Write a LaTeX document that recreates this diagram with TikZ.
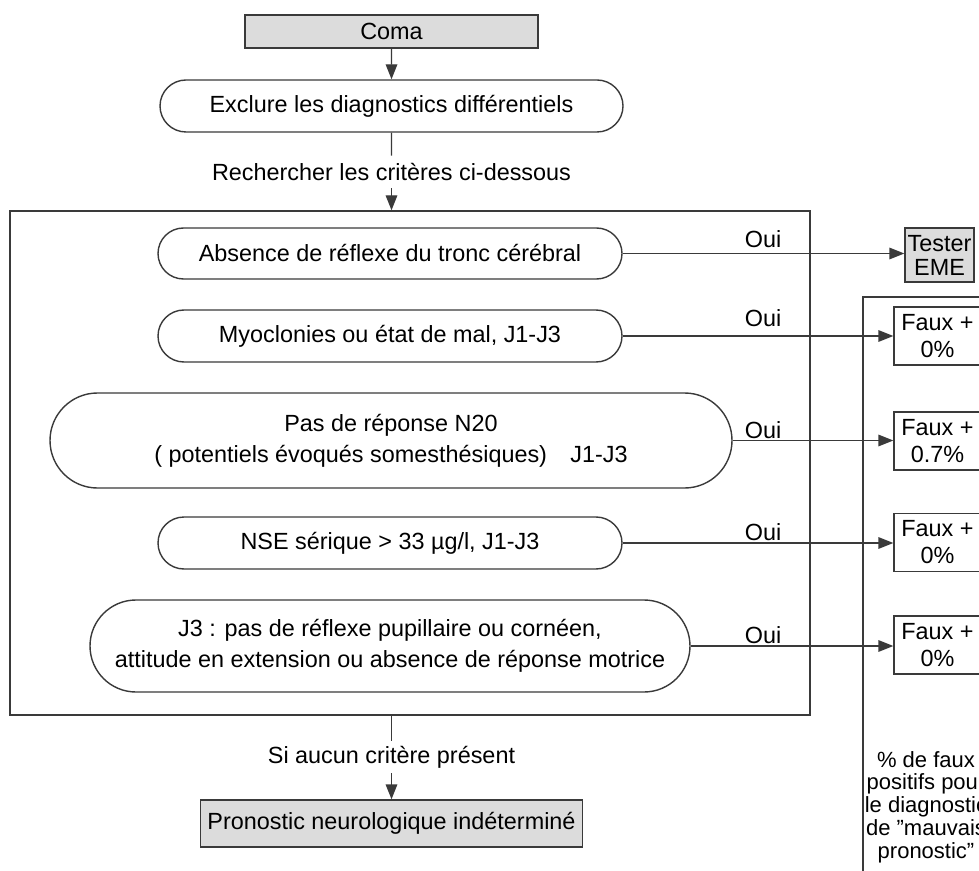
\documentclass[tikz,border=0pt]{standalone}
\usepackage{fontspec}
\setmainfont{Liberation Sans}
\usepackage{xcolor}
\definecolor{LineGray}{HTML}{3A3A3A}
\definecolor{BoxGray}{HTML}{DCDCDC}
\usetikzlibrary{arrows.meta,shapes.misc}
\tikzset{
  grayblock/.style={
    draw=LineGray,
    fill=BoxGray,
    line width=0.7pt,
    align=center,
    font=\fontsize{11.7}{12}\selectfont,
    inner sep=0pt
  },
  critblock/.style={
    rounded rectangle,
    draw=LineGray,
    fill=white,
    line width=0.7pt,
    align=center,
    font=\fontsize{11.7}{15.5}\selectfont,
    inner sep=0pt
  },
  resultblock/.style={
    draw=LineGray,
    fill=white,
    line width=0.7pt,
    align=center,
    font=\fontsize{11.7}{13.5}\selectfont,
    inner sep=0pt
  },
  flowtext/.style={
    font=\fontsize{11.7}{14}\selectfont,
    inner sep=0pt,
    minimum height=16pt
  },
  flowline/.style={
    draw=LineGray,
    line width=0.7pt
  },
  flowarrow/.style={
    flowline,
    -{Triangle[length=7.5pt,width=5.8pt]}
  }
}

\begin{document}
\begin{tikzpicture}[x=1pt,y=-1pt]
  \useasboundingbox (0,0) rectangle (489.5,435.5);
  \clip (0,0) rectangle (489.5,435.5);
  \node[grayblock,minimum width=146.5pt,minimum height=16.5pt] (coma) at (195.75,15.75) {Coma};
  \node[critblock,minimum width=231.5pt,minimum height=26pt] (excl) at (195.75,53) {Exclure les diagnostics différentiels};
  \node[flowtext] (search) at (195.75,86) {Rechercher les critères ci-dessous};
  \node[draw=LineGray,line width=0.7pt,minimum width=400pt,minimum height=252pt,inner sep=0pt] (frame) at (205,231.5) {};
  \node[critblock,minimum width=232pt,minimum height=25.5pt] (c1) at (195,126.75) {Absence de réflexe du tronc cérébral};
  \node[critblock,minimum width=232pt,minimum height=26pt] (c2) at (195,168) {Myoclonies ou état de mal, J1-J3};
  \node[critblock,minimum width=341pt,minimum height=47.5pt] (c3) at (195.5,220.25) {Pas de réponse N20\\( potentiels évoqués somesthésiques)\hspace{1em}J1-J3};
  \node[critblock,minimum width=232pt,minimum height=26pt] (c4) at (195,271.5) {NSE sérique > 33 µg/l, J1-J3};
  \node[critblock,minimum width=300pt,minimum height=46pt] (c5) at (195,323) {J3 : pas de réflexe pupillaire ou cornéen,\\attitude en extension ou absence de réponse motrice};
  \node[flowtext] (none) at (195.75,378.5) {Si aucun critère présent};
  \node[grayblock,minimum width=191pt,minimum height=23.5pt] (pron) at (195.75,411.75) {Pronostic neurologique indéterminé};
  % right column
  \node[grayblock,minimum width=34.5pt,minimum height=27pt] (tester) at (469.75,127.5) {Tester\\EME};
  \draw[flowline] (495,148.5) -| (431.5,440);
  \node[resultblock,minimum width=43.5pt,minimum height=29pt] (f1) at (468.75,168) {Faux +\\0\%};
  \node[resultblock,minimum width=43.5pt,minimum height=29pt] (f2) at (468.75,220.5) {Faux +\\0.7\%};
  \node[resultblock,minimum width=43.5pt,minimum height=29pt] (f3) at (468.75,271.25) {Faux +\\0\%};
  \node[resultblock,minimum width=43.5pt,minimum height=29pt] (f4) at (468.75,322.5) {Faux +\\0\%};
  \node[align=center,font=\fontsize{11}{11.4}\selectfont,inner sep=0pt] (note) at (463,403.5) {\% de faux\\positifs pour\\le diagnostic\\de "mauvais\\pronostic"};
  % connectors
  \draw[flowarrow] (coma) -- (excl);
  \draw[flowline] (excl) -- (search);
  \draw[flowarrow] (search) -- (search |- frame.north);
  \draw[flowline] (none |- frame.south) -- (none);
  \draw[flowarrow] (none) -- (pron);
  \foreach \src/\dst/\ly in {c1/tester/119.5,c2/f1/159,c3/f2/215,c4/f3/266,c5/f4/317.5}{
    \draw[flowarrow] (\src.east) -- (\src.east -| \dst.west);
    \node[flowtext] (oui-\src) at (381.5,\ly) {Oui};
  }
\end{tikzpicture}
\end{document}
